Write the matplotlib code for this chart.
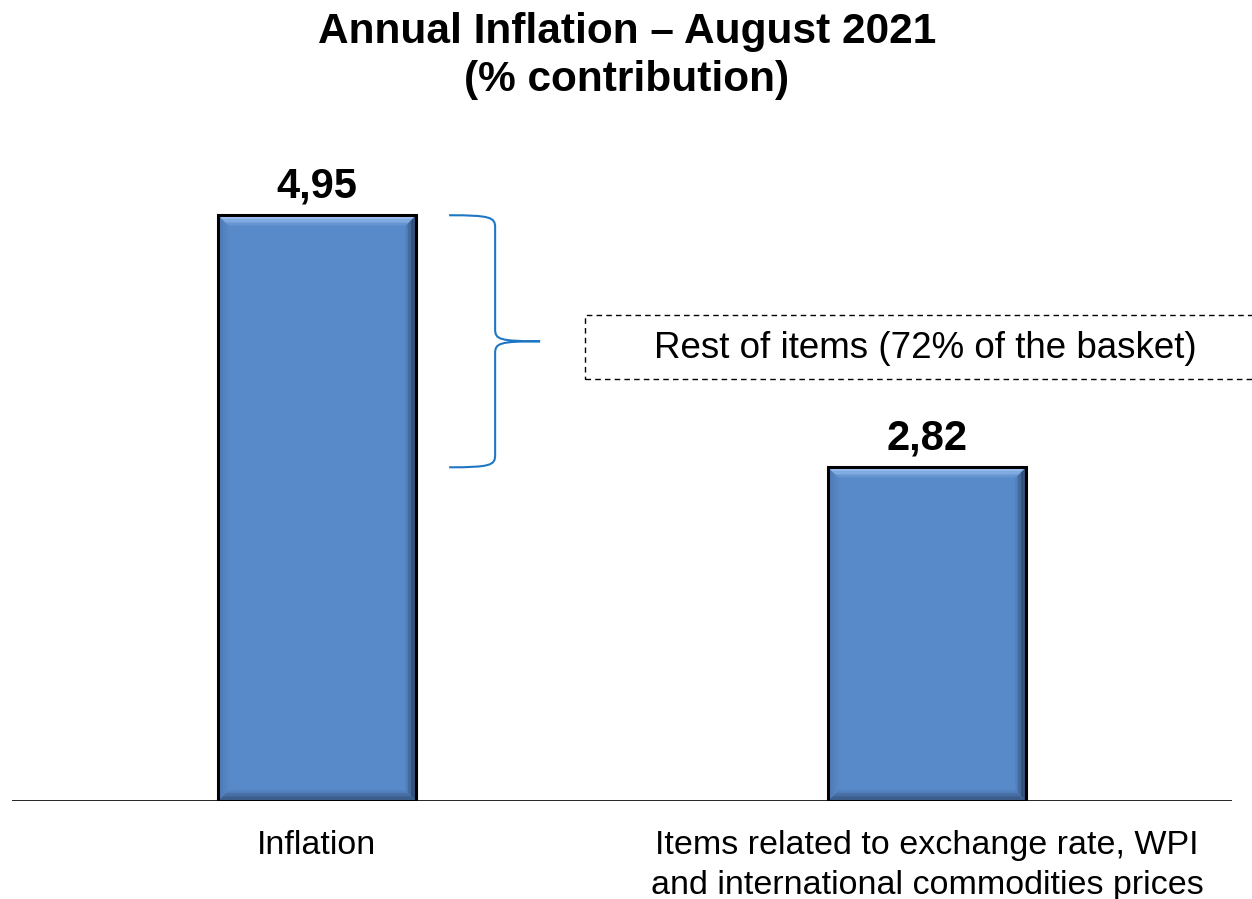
import matplotlib
matplotlib.use("Agg")
import matplotlib.pyplot as plt
from matplotlib.patches import Polygon, Rectangle, PathPatch
from matplotlib.path import Path
from matplotlib.colors import to_rgb

plt.rcParams['font.family'] = ['Liberation Sans', 'DejaVu Sans']

categories = ["Inflation",
              "Items related to exchange rate, WPI\nand international commodities prices"]
values = [4.95, 2.82]
value_labels = ["4,95", "2,82"]
title = "Annual Inflation \u2013 August 2021\n(% contribution)"
note = "Rest of items (72% of the basket)"

W, H = 1252, 899
fig = plt.figure(figsize=(W / 100, H / 100), dpi=100)
ax = fig.add_axes([12 / W, (H - 801) / H, 1220 / W, (801 - 91) / H])
ax.set_xlim(-0.5, 1.5)
ax.set_ylim(0, 6)
for s in ax.spines.values():
    s.set_visible(False)
ax.set_yticks([])
ax.set_xticks(range(len(categories)))
ax.set_xticklabels(categories, fontsize=24.5, linespacing=1.35)
ax.tick_params(axis='x', length=0, pad=21)
ax.axhline(0, color='black', lw=1.2, zorder=5)

bar_w = 0.325
face = "#5889C8"
bars = ax.bar(range(len(values)), values, width=bar_w, color=face,
              edgecolor='none', zorder=3)


def mix(c1, c2, t):
    a, b = to_rgb(c1), to_rgb(c2)
    return tuple(a[i] + (b[i] - a[i]) * t for i in range(3))


# pixel-to-data scale for the bevel facets
px_x = 2.0 / 1220
px_y = 6.0 / 710
steps = 8
bevel_px = 11
edge_cols = {"top": "#A6C9F7", "right": "#243C5E", "bottom": "#344F78", "left": "#4C79B3"}
for b in bars:
    X0, Y0 = b.get_x(), b.get_y()
    X1, Y1 = X0 + b.get_width(), Y0 + b.get_height()
    for k in range(steps):
        d0 = bevel_px * k / steps
        d1 = bevel_px * (k + 1) / steps
        t = ((k + 0.5) / steps) ** 1.3
        a0x, a0y, a1x, a1y = d0 * px_x, d0 * px_y, d1 * px_x, d1 * px_y
        facets = {
            "top": [(X0 + a0x, Y1 - a0y), (X1 - a0x, Y1 - a0y), (X1 - a1x, Y1 - a1y), (X0 + a1x, Y1 - a1y)],
            "right": [(X1 - a0x, Y1 - a0y), (X1 - a0x, Y0 + a0y), (X1 - a1x, Y0 + a1y), (X1 - a1x, Y1 - a1y)],
            "bottom": [(X0 + a0x, Y0 + a0y), (X1 - a0x, Y0 + a0y), (X1 - a1x, Y0 + a1y), (X0 + a1x, Y0 + a1y)],
            "left": [(X0 + a0x, Y0 + a0y), (X0 + a0x, Y1 - a0y), (X0 + a1x, Y1 - a1y), (X0 + a1x, Y0 + a1y)],
        }
        for side, pts in facets.items():
            ax.add_patch(Polygon(pts, closed=True, facecolor=mix(edge_cols[side], face, t),
                                 edgecolor='none', zorder=4, antialiased=True))
    ax.add_patch(Rectangle((X0, Y0), X1 - X0, Y1 - Y0, fill=False,
                           edgecolor='black', lw=2.2, zorder=6))

for i, (v, lab) in enumerate(zip(values, value_labels)):
    ax.annotate(lab, (i, v), xytext=(0, 6), textcoords='offset points',
                ha='center', va='bottom', fontsize=30, fontweight='bold')

# curly brace spanning the gap between the two bar heights
ylo, yhi = values[1], values[0]
ymid = (ylo + yhi) / 2
xs = bars[0].get_x() + bar_w + 33 * px_x
xm = xs + 46 * px_x
xt = xm + 45 * px_x
r = 12 * px_y
verts = [
    (xs, yhi), (xm - 5 * px_x, yhi), (xm, yhi - 2 * px_y), (xm, yhi - r),
    (xm, ymid + r),
    (xm, ymid + 2 * px_y), (xm + 4 * px_x, ymid), (xt, ymid),
    (xm + 4 * px_x, ymid), (xm, ymid - 2 * px_y), (xm, ymid - r),
    (xm, ylo + r),
    (xm, ylo + 2 * px_y), (xm - 5 * px_x, ylo), (xs, ylo),
]
codes = [Path.MOVETO, Path.CURVE4, Path.CURVE4, Path.CURVE4,
         Path.LINETO,
         Path.CURVE4, Path.CURVE4, Path.CURVE4,
         Path.CURVE4, Path.CURVE4, Path.CURVE4,
         Path.LINETO,
         Path.CURVE4, Path.CURVE4, Path.CURVE4]
ax.add_patch(PathPatch(Path(verts, codes), facecolor='none',
                       edgecolor="#1F77C4", lw=1.5, zorder=5))

# dashed note box, running off the right edge
box = Rectangle((585 / W, (H - 379) / H), 700 / W, 64 / H, transform=fig.transFigure,
                fill=False, edgecolor='black', lw=1, linestyle=(0, (4, 3)), clip_on=False)
fig.add_artist(box)
fig.text(925 / W, (H - 349) / H, note, ha='center', va='center', fontsize=26.5)

fig.text(627 / W, (H - 56) / H, title, ha='center', va='center', fontsize=30.5,
         fontweight='bold', linespacing=1.28)

fig.savefig("out.png", dpi=100)
